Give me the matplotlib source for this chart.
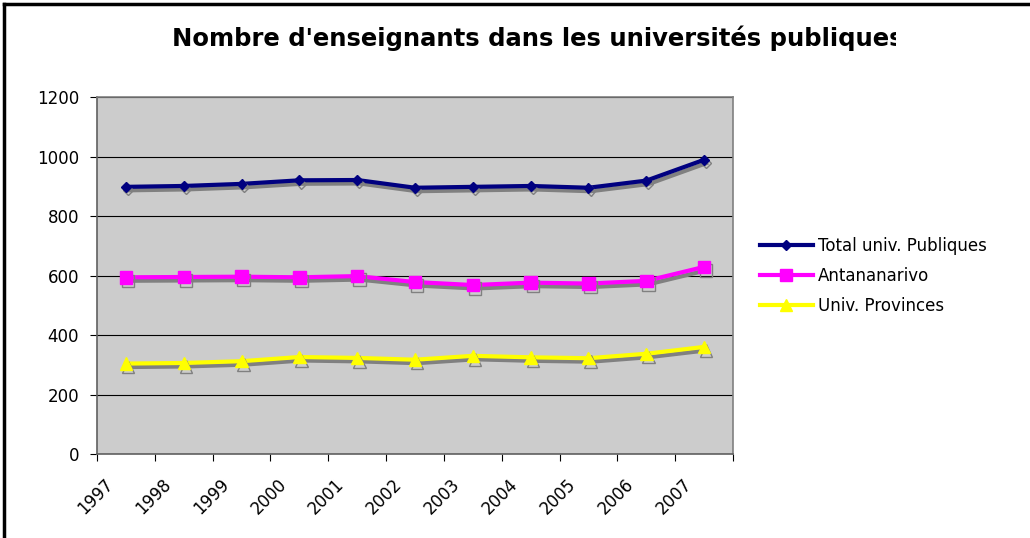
import matplotlib.pyplot as plt
import matplotlib.patheffects as pe
from matplotlib.lines import Line2D
from matplotlib.transforms import Bbox, ScaledTranslation

years = ['1997', '1998', '1999', '2000', '2001', '2002', '2003', '2004', '2005', '2006', '2007']
antananarivo = [594, 595, 596, 594, 598, 578, 568, 576, 573, 582, 629]
provinces = [304, 306, 312, 326, 323, 317, 330, 325, 322, 337, 360]
total = [a + p for a, p in zip(antananarivo, provinces)]

fig = plt.figure(figsize=(10.30, 5.38), dpi=100)
ax = fig.add_axes([0.0942, 0.1561, 0.6175, 0.6636])
ax.set_facecolor('#cccccc')

x = list(range(len(years)))
shadow = [pe.SimpleLineShadow(offset=(1.5, -2.5), shadow_color='#808080', alpha=1.0), pe.Normal()]

ax.plot(x, total, color='#000080', lw=3, marker='D', ms=5, path_effects=shadow,
        label='Total univ. Publiques', zorder=5)
ax.plot(x, antananarivo, color='#ff00ff', lw=3, marker='s', ms=9, path_effects=shadow,
        label='Antananarivo', zorder=5)
ax.plot(x, provinces, color='#ffff00', lw=3, marker='^', ms=9, path_effects=shadow,
        label='Univ. Provinces', zorder=5)

ax.set_xlim(-0.5, len(years) - 0.5)
ax.set_ylim(0, 1200)
ax.set_yticks(range(0, 1201, 200))
ax.yaxis.grid(True, color='black', lw=0.8)
ax.set_axisbelow(True)

# ticks at category borders, labels at centers
ax.set_xticks([i - 0.5 for i in range(len(years) + 1)])
ax.set_xticklabels([])
ax.set_xticks(x, minor=True)
ax.set_xticklabels(years, minor=True, rotation=45, ha='right', rotation_mode='anchor')
ax.tick_params(axis='x', which='minor', length=0, pad=10, labelsize=12)
ax.tick_params(axis='x', which='major', length=5, color='black')
ax.tick_params(axis='y', length=5, pad=8, labelsize=12, color='black')
shift = ScaledTranslation(-0.22, -0.07, fig.dpi_scale_trans)
for lab in ax.get_xticklabels(minor=True):
    lab.set_transform(lab.get_transform() + shift)

for s in ['top', 'right']:
    ax.spines[s].set_color('#808080')
    ax.spines[s].set_linewidth(1.2)
for s in ['left', 'bottom']:
    ax.spines[s].set_color('#606060')
    ax.spines[s].set_linewidth(1.2)

handles = [
    Line2D([], [], color='#000080', lw=3, marker='D', ms=5),
    Line2D([], [], color='#ff00ff', lw=3, marker='s', ms=9),
    Line2D([], [], color='#ffff00', lw=3, marker='^', ms=9),
]
fig.legend(handles, ['Total univ. Publiques', 'Antananarivo', 'Univ. Provinces'],
           loc='center left', bbox_to_anchor=(0.723, 0.487), frameon=False,
           fontsize=12, handlelength=3.2, handletextpad=0.3, labelspacing=0.72)

# title is cut off on the right in the original
title = fig.text(0.522, 0.929, "Nombre d'enseignants dans les universités publiques",
                 ha='center', va='center', fontsize=17.5, fontweight='bold')
title.set_clip_on(True)
title.set_clip_box(Bbox([[0, 0], [896, 538]]))

# outer frame (only top and left visible)
fig.add_artist(Line2D([0.004, 0.004], [0, 0.992], color='black', lw=2.5, transform=fig.transFigure))
fig.add_artist(Line2D([0.004, 1.0], [0.992, 0.992], color='black', lw=2.5, transform=fig.transFigure))

fig.savefig('out.png', dpi=100)
